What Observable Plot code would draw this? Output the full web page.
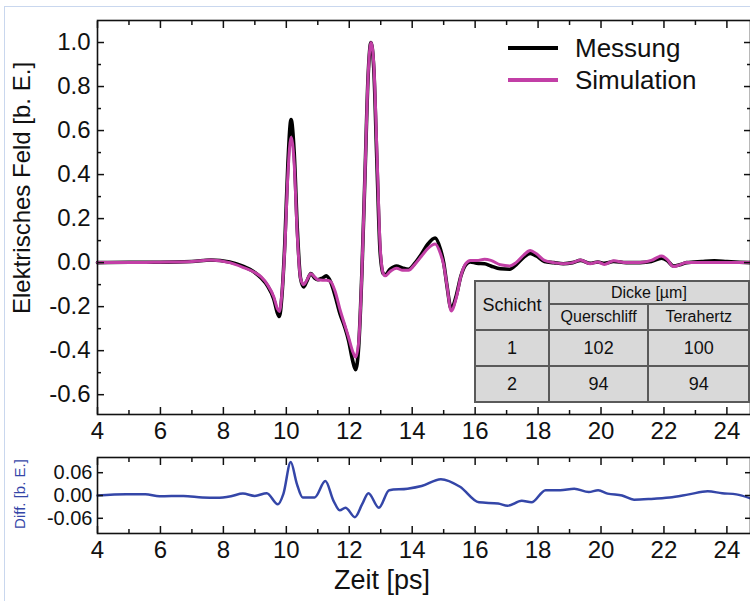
<!DOCTYPE html>
<html><head><meta charset="utf-8">
<script src="https://cdn.jsdelivr.net/npm/d3@7"></script>
<script src="https://cdn.jsdelivr.net/npm/@observablehq/plot@0.6"></script>
<style>
html,body{margin:0;padding:0;background:#fff;overflow:hidden;}
#page{position:relative;width:750px;height:601px;overflow:hidden;font-family:"Liberation Sans",Arial,sans-serif;color:#111;}
#border{position:absolute;left:4px;top:6px;width:800px;height:700px;border-top:1px solid #c9d7ee;border-left:1px solid #c9d7ee;}
#main{position:absolute;left:0;top:0;}
#diff{position:absolute;left:0;top:440px;}
.lbl{position:absolute;white-space:nowrap;line-height:1;}
.rot{transform:translate(-50%,-50%) rotate(-90deg);}
.leg-line{position:absolute;height:4px;}
#tbl{position:absolute;left:474px;top:280px;border-collapse:collapse;background:#d9d9d9;border:2px solid #555;font-family:"Liberation Sans",Arial,sans-serif;color:#111;}
#tbl td,#tbl th{border:2px solid #5a5a5a;font-weight:normal;text-align:center;padding:0;}
</style>
</head><body>
<div id="page">
  <div id="border"></div>
  <div id="main"></div>
  <div id="diff"></div>
</div>
<script>
// ---------- data ----------
const xMajor = [4, 6, 8, 10, 12, 14, 16, 18, 20, 22, 24];
const xMinor = [5, 7, 9, 11, 13, 15, 17, 19, 21, 23];
const yMajor = [-0.6, -0.4, -0.2, 0.0, 0.2, 0.4, 0.6, 0.8, 1.0];
const yMinor = [-0.5, -0.3, -0.1, 0.1, 0.3, 0.5, 0.7, 0.9];
const diffTicks = [-0.06, 0.0, 0.06];

const time = [4.0,5.0,6.0,7.0,7.6,8.2,8.6,9.0,9.2,9.4,9.6,9.72,9.78,9.86,9.95,10.05,10.15,10.25,10.35,10.45,10.55,10.65,10.78,10.9,11.0,11.15,11.27,11.4,11.55,11.7,11.85,11.98,12.1,12.2,12.3,12.4,12.5,12.6,12.69,12.78,12.88,12.98,13.08,13.14,13.3,13.5,13.7,13.88,14.1,14.3,14.5,14.73,14.9,15.0,15.1,15.24,15.4,15.55,15.7,15.85,16.05,16.3,16.5,16.8,17.1,17.3,17.55,17.75,17.95,18.2,18.5,18.8,19.1,19.35,19.65,19.9,20.1,20.4,20.8,21.24,21.6,21.92,22.1,22.3,22.5,22.72,23.2,23.6,24.0,24.4,24.75];
const messung = [0.0,0.002,0.002,0.005,0.012,0.003,-0.015,-0.045,-0.07,-0.105,-0.165,-0.23,-0.245,-0.15,0.08,0.45,0.65,0.5,0.15,-0.07,-0.11,-0.085,-0.05,-0.07,-0.078,-0.07,-0.06,-0.085,-0.15,-0.23,-0.29,-0.355,-0.44,-0.486,-0.38,-0.05,0.4,0.85,1.0,0.88,0.45,0.05,-0.05,-0.055,-0.03,-0.015,-0.025,-0.03,0.0,0.04,0.085,0.112,0.06,0.0,-0.1,-0.21,-0.15,-0.06,-0.01,0.003,-0.003,-0.005,-0.015,-0.028,-0.03,-0.01,0.025,0.042,0.03,0.005,0.0,-0.005,0.0,0.01,-0.003,0.003,-0.003,0.005,0.0,0.0,0.005,0.02,0.01,-0.015,-0.01,0.0,0.005,0.008,0.005,0.002,0.0];
const simulation = [0.0,0.0,0.002,0.005,0.012,0.0,-0.02,-0.045,-0.065,-0.1,-0.155,-0.21,-0.222,-0.14,0.06,0.4,0.57,0.45,0.12,-0.07,-0.1,-0.08,-0.05,-0.065,-0.078,-0.08,-0.08,-0.085,-0.13,-0.21,-0.28,-0.34,-0.4,-0.43,-0.36,-0.05,0.4,0.85,1.0,0.9,0.5,0.08,-0.05,-0.06,-0.04,-0.025,-0.035,-0.035,-0.005,0.03,0.065,0.085,0.04,-0.01,-0.1,-0.22,-0.16,-0.06,-0.005,0.01,0.01,0.015,0.01,-0.01,-0.015,0.0,0.035,0.055,0.04,0.01,0.0,-0.005,0.0,0.012,-0.005,0.003,-0.008,0.008,0.0,0.0,0.01,0.03,0.015,-0.018,-0.01,0.0,0.0,0.0,0.0,0.0,0.0];

const diffTime = [4.0,4.91,5.52,5.97,6.73,7.33,7.79,8.24,8.62,9.0,9.38,9.73,9.91,10.14,10.33,10.52,10.9,11.24,11.5,11.7,11.88,12.18,12.41,12.61,12.94,13.27,13.85,14.3,14.91,15.52,16.12,16.73,17.03,17.48,17.79,18.24,18.7,19.15,19.61,19.91,20.21,20.67,21.05,21.58,22.18,22.79,23.39,23.85,24.3,24.73];
const diffValues = [0.0,0.003,0.003,-0.002,-0.001,-0.005,-0.006,-0.002,0.005,-0.001,0.006,-0.023,0.005,0.088,0.032,-0.005,-0.005,0.038,-0.014,-0.039,-0.032,-0.057,-0.023,0.006,-0.032,0.014,0.018,0.025,0.043,0.023,-0.018,-0.021,-0.027,-0.014,-0.018,0.014,0.014,0.018,0.009,0.014,0.005,0.0,-0.011,-0.009,-0.005,0.003,0.011,0.006,0.003,-0.007];

const seriesNames = ["Messung", "Simulation"];
const seriesColors = ["#000000", "#c23fa6"];
const diffColor = "#3446a8";

const tableHead = ["Schicht", "Dicke [µm]", "Querschliff", "Terahertz"];
const layers = ["1", "2"];
const querschliff = [102, 94];
const terahertz = [100, 94];

const yLabel = "Elektrisches Feld [b. E.]";
const diffLabel = "Diff. [b. E.]";
const xLabel = "Zeit [ps]";

// ---------- build ----------
const font = "Liberation Sans, Arial, sans-serif";
const mainData = time.map((t, i) => ({t, m: messung[i], s: simulation[i]}));
const diffData = diffTime.map((t, i) => ({t, d: diffValues[i]}));
const xDomain = [4, 24.75];
const blank = () => "";

const main = Plot.plot({
  width: 750, height: 450,
  marginLeft: 97, marginRight: 0, marginTop: 20, marginBottom: 36,
  x: {domain: xDomain},
  y: {domain: [-0.69, 1.1]},
  style: {fontFamily: font, background: "transparent", color: "#111", overflow: "visible"},
  marks: [
    Plot.line(mainData, {x: "t", y: "m", stroke: seriesColors[0], strokeWidth: 3.6, curve: "monotone-x"}),
    Plot.line(mainData, {x: "t", y: "s", stroke: seriesColors[1], strokeWidth: 3, curve: "monotone-x"}),
    Plot.axisX(xMajor, {anchor: "bottom", tickSize: -7, tickPadding: 14, fontSize: 24, tickFormat: d => String(d), label: null, strokeWidth: 1.5}),
    Plot.axisX(xMinor, {anchor: "bottom", tickSize: -4, tickFormat: blank, label: null, strokeWidth: 1.5}),
    Plot.axisX(xMajor, {anchor: "top", tickSize: -7, tickFormat: blank, label: null, strokeWidth: 1.5}),
    Plot.axisX(xMinor, {anchor: "top", tickSize: -4, tickFormat: blank, label: null, strokeWidth: 1.5}),
    Plot.axisY(yMajor, {anchor: "left", tickSize: -7, tickPadding: 14, fontSize: 24, tickFormat: d => d.toFixed(1), label: null, strokeWidth: 1.5}),
    Plot.axisY(yMinor, {anchor: "left", tickSize: -4, tickFormat: blank, label: null, strokeWidth: 1.5}),
    Plot.axisY(yMajor, {anchor: "right", tickSize: -7, tickFormat: blank, label: null, strokeWidth: 1.5}),
    Plot.axisY(yMinor, {anchor: "right", tickSize: -4, tickFormat: blank, label: null, strokeWidth: 1.5}),
    Plot.frame({stroke: "#111", strokeWidth: 1.6})
  ]
});
document.getElementById("main").appendChild(main);

const diff = Plot.plot({
  width: 750, height: 161,
  marginLeft: 97, marginRight: 0, marginTop: 17, marginBottom: 68,
  x: {domain: xDomain},
  y: {domain: [-0.1, 0.1]},
  style: {fontFamily: font, background: "transparent", color: "#111", overflow: "visible"},
  marks: [
    Plot.line(diffData, {x: "t", y: "d", stroke: diffColor, strokeWidth: 2.5, curve: "monotone-x"}),
    Plot.axisX(xMajor, {anchor: "bottom", tickSize: -7, tickPadding: 14, fontSize: 24, tickFormat: d => String(d), label: null, strokeWidth: 1.5}),
    Plot.axisX(xMinor, {anchor: "bottom", tickSize: -4, tickFormat: blank, label: null, strokeWidth: 1.5}),
    Plot.axisX(xMajor, {anchor: "top", tickSize: -7, tickFormat: blank, label: null, strokeWidth: 1.5}),
    Plot.axisX(xMinor, {anchor: "top", tickSize: -4, tickFormat: blank, label: null, strokeWidth: 1.5}),
    Plot.axisY(diffTicks, {anchor: "left", tickSize: -6, tickPadding: 11, fontSize: 20, tickFormat: d => d.toFixed(2), label: null, strokeWidth: 1.5}),
    Plot.axisY(diffTicks, {anchor: "right", tickSize: -6, tickFormat: blank, label: null, strokeWidth: 1.5}),
    Plot.frame({stroke: "#111", strokeWidth: 1.6})
  ]
});
document.getElementById("diff").appendChild(diff);

// ---------- labels, legend, table ----------
const page = document.getElementById("page");
function addLabel(text, left, top, size, color, rotate) {
  const d = document.createElement("div");
  d.className = "lbl" + (rotate ? " rot" : "");
  d.textContent = text;
  d.style.left = left + "px"; d.style.top = top + "px";
  d.style.fontSize = size + "px"; d.style.color = color;
  if (!rotate) d.style.transform = "translate(-50%,-50%)";
  page.appendChild(d);
}
addLabel(yLabel, 22, 188, 24, "#111", true);
addLabel(diffLabel, 19, 494, 15, diffColor, true);
addLabel(xLabel, 382, 580, 27, "#111", false);

seriesNames.forEach((name, i) => {
  const ln = document.createElement("div");
  ln.className = "leg-line";
  ln.style.left = "508px"; ln.style.width = "50px";
  ln.style.top = (46 + i * 32) + "px";
  ln.style.background = seriesColors[i];
  page.appendChild(ln);
  const t = document.createElement("div");
  t.className = "lbl";
  t.textContent = name;
  t.style.left = "575px"; t.style.top = (48 + i * 32) + "px";
  t.style.fontSize = "26px"; t.style.transform = "translateY(-50%)";
  page.appendChild(t);
});

const tbl = document.createElement("table");
tbl.id = "tbl";
const widths = [72, 98, 99];
const r1 = tbl.insertRow(); r1.style.height = "23px";
let c = r1.insertCell(); c.rowSpan = 2; c.textContent = tableHead[0]; c.style.fontSize = "18px"; c.style.width = widths[0] + "px";
c = r1.insertCell(); c.colSpan = 2; c.textContent = tableHead[1]; c.style.fontSize = "16px";
const r2 = tbl.insertRow(); r2.style.height = "26px";
c = r2.insertCell(); c.textContent = tableHead[2]; c.style.fontSize = "16px"; c.style.width = widths[1] + "px";
c = r2.insertCell(); c.textContent = tableHead[3]; c.style.fontSize = "16px"; c.style.width = widths[2] + "px";
layers.forEach((l, i) => {
  const r = tbl.insertRow(); r.style.height = "36px";
  [l, querschliff[i], terahertz[i]].forEach(v => {
    const cc = r.insertCell(); cc.textContent = String(v); cc.style.fontSize = "18px";
  });
});
page.appendChild(tbl);
</script>
</body></html>
